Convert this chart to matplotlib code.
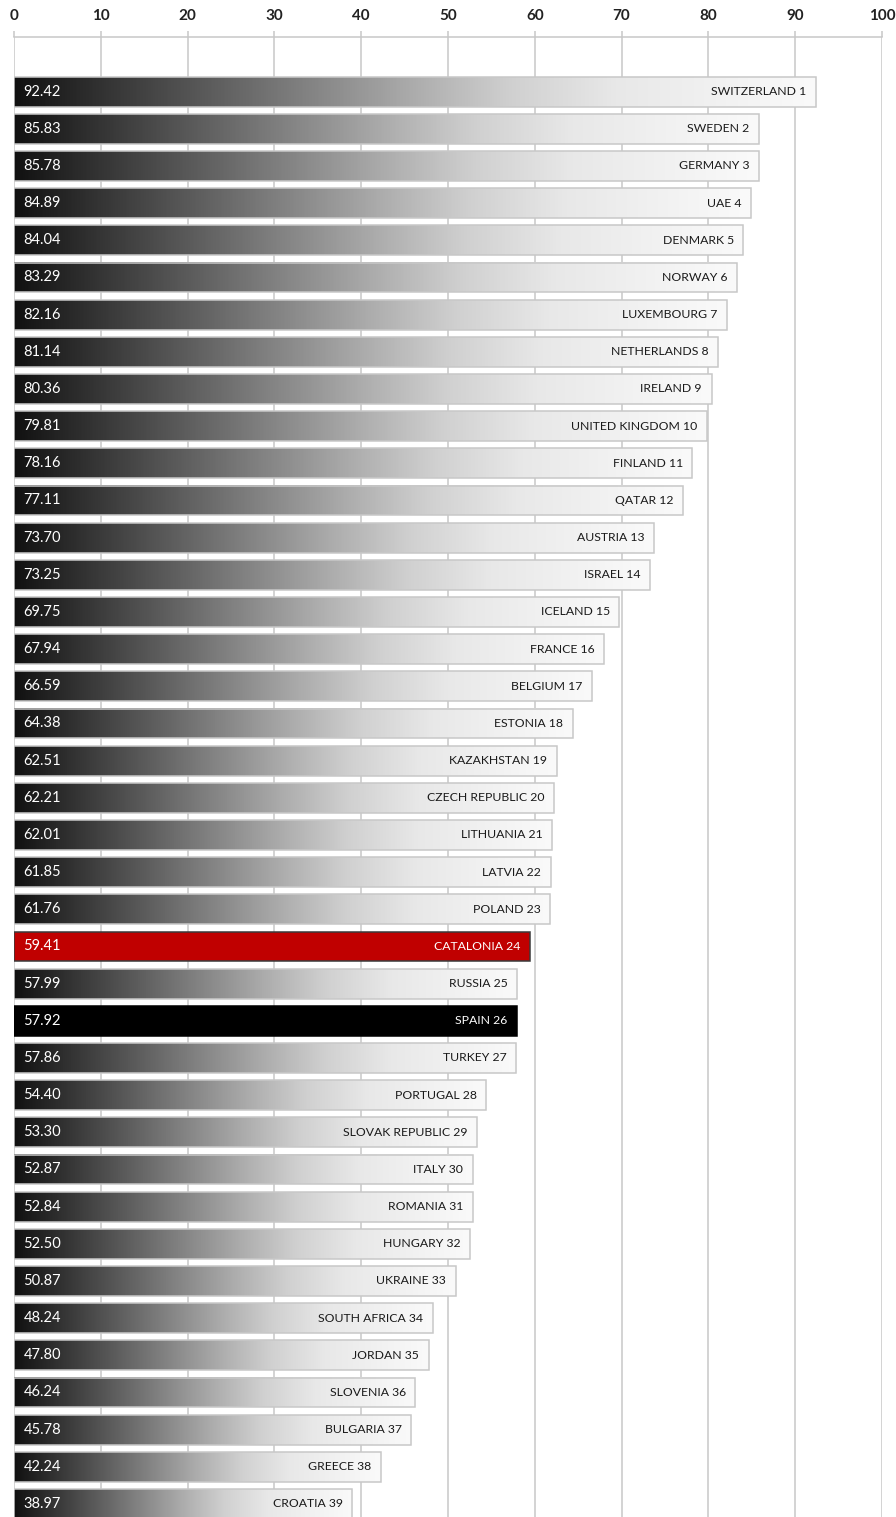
import matplotlib
matplotlib.use("Agg")
import matplotlib.pyplot as plt
import numpy as np
from matplotlib.colors import LinearSegmentedColormap

countries = ["SWITZERLAND", "SWEDEN", "GERMANY", "UAE", "DENMARK", "NORWAY",
             "LUXEMBOURG", "NETHERLANDS", "IRELAND", "UNITED KINGDOM", "FINLAND",
             "QATAR", "AUSTRIA", "ISRAEL", "ICELAND", "FRANCE", "BELGIUM",
             "ESTONIA", "KAZAKHSTAN", "CZECH REPUBLIC", "LITHUANIA", "LATVIA",
             "POLAND", "CATALONIA", "RUSSIA", "SPAIN", "TURKEY", "PORTUGAL",
             "SLOVAK REPUBLIC", "ITALY", "ROMANIA", "HUNGARY", "UKRAINE",
             "SOUTH AFRICA", "JORDAN", "SLOVENIA", "BULGARIA", "GREECE", "CROATIA"]
scores = [92.42, 85.83, 85.78, 84.89, 84.04, 83.29, 82.16, 81.14, 80.36, 79.81,
          78.16, 77.11, 73.70, 73.25, 69.75, 67.94, 66.59, 64.38, 62.51, 62.21,
          62.01, 61.85, 61.76, 59.41, 57.99, 57.92, 57.86, 54.40, 53.30, 52.87,
          52.84, 52.50, 50.87, 48.24, 47.80, 46.24, 45.78, 42.24, 38.97]
ranks = list(range(1, len(countries) + 1))
x_ticks = [0, 10, 20, 30, 40, 50, 60, 70, 80, 90, 100]

highlight = {"CATALONIA": ("#c00000", "#3a3a3a"), "SPAIN": ("#000000", "#000000")}

FONT = ["Lato", "DejaVu Sans"]
GRID = "#c8c8c8"

grad = LinearSegmentedColormap.from_list(
    "bar_grad",
    [(0.0, "#111111"), (0.25, "#5e5e5e"), (0.5, "#adadad"),
     (0.62, "#d0d0d0"), (0.75, "#e8e8e8"), (1.0, "#fafafa")])
ramp = np.linspace(0, 1, 512).reshape(1, -1)

W, H = 896, 1517
fig = plt.figure(figsize=(W / 100, H / 100), dpi=100)
ax = fig.add_axes([14 / W, 0, (882 - 14) / W, 1 - 37 / H])

n = len(countries)
bar_h = 0.8
ypos = np.arange(n)

for tx in x_ticks:
    ax.axvline(tx, color=GRID, lw=1.1, zorder=0)

for i, (name, val, rk) in enumerate(zip(countries, scores, ranks)):
    y = ypos[i]
    if name in highlight:
        fc, ec = highlight[name]
        ax.barh(y, val, height=bar_h, color=fc, edgecolor=ec, linewidth=1.1, zorder=3)
        txt_col = "white"
    else:
        ax.imshow(ramp, cmap=grad, aspect="auto", interpolation="bilinear",
                  extent=(0, val, y + bar_h / 2, y - bar_h / 2), zorder=2)
        ax.barh(y, val, height=bar_h, facecolor="none", edgecolor=GRID,
                linewidth=1.1, zorder=3)
        txt_col = "#1a1a1a"
    ax.text(1.1, y, f"{val:.2f}", color="white", fontsize=10.5, family=FONT,
            va="center", ha="left", zorder=4)
    ax.text(val - 1.1, y, f"{name} {rk}", color=txt_col, fontsize=8.8, family=FONT,
            va="center", ha="right", zorder=4)

# imshow resets limits, so set them once all bars are in place
ax.set_xlim(0, 100)
ax.set_ylim(38.35, -1.47)

ax.xaxis.tick_top()
ax.set_xticks(x_ticks)
ax.set_xticklabels([str(t) for t in x_ticks], family=FONT, fontsize=11,
                   fontweight="bold", color="#222222")
ax.tick_params(axis="x", length=4, width=1.1, color=GRID, pad=6)
ax.set_yticks([])
for side in ["bottom", "right", "left"]:
    ax.spines[side].set_visible(False)
ax.spines["top"].set_color(GRID)
ax.spines["top"].set_linewidth(1.1)
ax.patch.set_alpha(0)

fig.savefig("out.png", dpi=100)
